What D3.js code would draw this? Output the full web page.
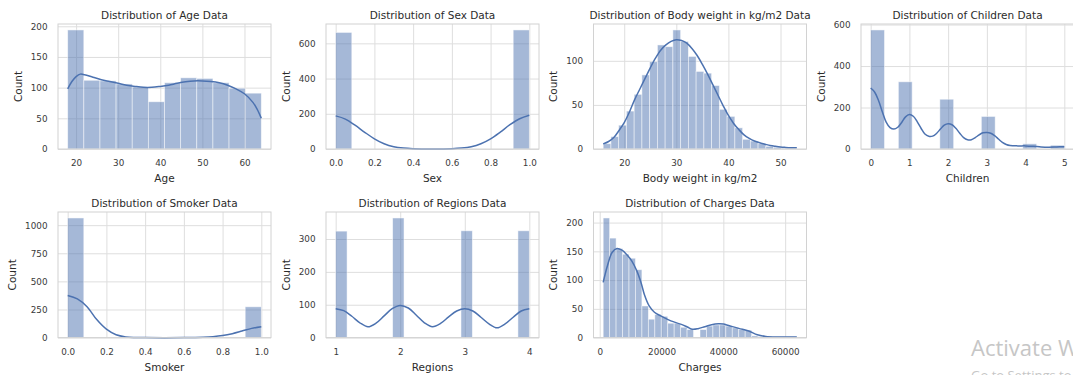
<!DOCTYPE html>
<html>
<head>
<meta charset="utf-8">
<script src="https://cdnjs.cloudflare.com/ajax/libs/d3/7.8.5/d3.min.js"></script>
<style>
  body { margin: 0; background: #fff; }
  svg text { font-family: "DejaVu Sans", sans-serif; fill: #2b2b2b; }
  .grid line { stroke: #dedede; stroke-width: 1; }
  .ticks text { font-size: 8.8px; fill: #3a3a3a; }
  .watermark { font-family: "Open Sans", "Noto Sans", sans-serif !important; fill: #c6c6c6 !important; }
</style>
</head>
<body>
<svg id="fig" width="1073" height="375"></svg>
<script>
// ---- data ----
var ageRange = [18, 64];
var ageCounts = [194, 112, 111, 106, 101, 77, 108, 116, 115, 108, 99, 91];
var ageKde = [[18,98],[19,110],[20,118],[21,122],[22,121],[24,117],[26,113],[28,110],[30,107],[32,104],[34,102],[36,100.5],[38,100.5],[40,102],[42,104],[44,107],[46,109.5],[48,111],[50,111],[52,110],[54,108],[56,104],[58,98],[60,90],[62,76],[63,65],[64,50]];
var ageXTicks = [20, 30, 40, 50, 60];
var ageYTicks = [0, 50, 100, 150, 200];

var sexRange = [0, 1];
var sexCounts = [662, 0, 0, 0, 0, 0, 0, 0, 0, 0, 0, 676];
var sexKde = [[0,188],[0.05,170],[0.1,135],[0.15,95],[0.2,58],[0.25,30],[0.3,13],[0.35,5],[0.4,1.5],[0.5,0],[0.6,1.5],[0.65,5],[0.7,13],[0.75,30],[0.8,58],[0.85,96],[0.9,138],[0.95,172],[1.0,192]];
var sexXTicks = [0, 0.2, 0.4, 0.6, 0.8, 1.0];
var sexYTicks = [0, 200, 400, 600];

var bmiRange = [15.96, 53.13];
var bmiCounts = [6, 14, 27, 43, 62, 84, 99, 118, 116, 135, 122, 105, 88, 86, 72, 45, 37, 24, 11, 9, 6, 3, 2, 1, 1];
var bmiKde = [[15.96,5.8],[17,8.5],[18,13],[19,21],[20,30],[21,42],[22,56],[23,68],[24,80],[25,92],[26,103],[27,112],[28,118],[29,122],[30,124],[31,123],[32,120],[33,114],[34,106],[35,96],[36,85],[37,73],[38,61],[39,49],[40,38],[41,29],[42,22],[43,16],[44,12],[45,9],[46,7],[47,5.5],[48,4],[49,3],[50,2.2],[51,1.8],[52,1.5],[53.13,1.3]];
var bmiXTicks = [20, 30, 40, 50];
var bmiYTicks = [0, 50, 100];

var childRange = [0, 5];
var childCounts = [574, 0, 324, 0, 0, 240, 0, 0, 157, 0, 0, 25, 0, 18];
var childKde = [[0,294],[0.1,275],[0.2,235],[0.3,180],[0.4,130],[0.5,103],[0.6,96],[0.7,105],[0.8,128],[0.9,155],[1.0,166],[1.1,158],[1.2,132],[1.3,100],[1.4,72],[1.5,61],[1.6,62],[1.7,75],[1.8,96],[1.9,115],[2.0,122],[2.1,117],[2.2,100],[2.3,76],[2.4,55],[2.5,45],[2.6,45],[2.7,55],[2.8,68],[2.9,78],[3.0,80],[3.1,76],[3.2,64],[3.3,48],[3.4,32],[3.5,22],[3.6,17],[3.8,15],[4.0,15],[4.2,13],[4.4,10],[4.6,9],[4.8,10],[5.0,11]];
var childXTicks = [0, 1, 2, 3, 4, 5];
var childYTicks = [0, 200, 400, 600];

var smokerRange = [0, 1];
var smokerCounts = [1064, 0, 0, 0, 0, 0, 0, 0, 0, 0, 0, 274];
var smokerKde = [[0,375],[0.05,345],[0.1,275],[0.15,160],[0.2,75],[0.25,25],[0.3,6],[0.35,1],[0.4,0],[0.6,0],[0.65,1],[0.7,3],[0.75,8],[0.8,18],[0.85,35],[0.9,58],[0.95,82],[1.0,97]];
var smokerXTicks = [0, 0.2, 0.4, 0.6, 0.8, 1.0];
var smokerYTicks = [0, 250, 500, 750, 1000];

var regionRange = [1, 4];
var regionCounts = [324, 0, 0, 0, 0, 364, 0, 0, 0, 0, 0, 325, 0, 0, 0, 0, 325];
var regionKde = [[1,88],[1.125,82],[1.25,65],[1.375,45],[1.5,33],[1.625,44],[1.75,66],[1.875,88],[2,98],[2.125,90],[2.25,68],[2.375,45],[2.5,33],[2.625,43],[2.75,63],[2.875,81],[3,88],[3.125,81],[3.25,62],[3.375,42],[3.5,30],[3.625,42],[3.75,62],[3.875,81],[4,88]];
var regionXTicks = [1, 2, 3, 4];
var regionYTicks = [0, 100, 200, 300];

var chargeRange = [1121.87, 63770.43];
var chargeCounts = [208, 173, 155, 145, 138, 118, 55, 32, 40, 37, 25, 25, 18, 14, 0, 14, 20, 22, 22, 20, 17, 14, 13, 3, 2, 1, 1, 0, 1, 1];
var chargeKde = [[1122,96],[2500,125],[4000,148],[5600,155],[7200,152],[8800,144],[10400,133],[12000,116],[13400,95],[14500,74],[16000,55],[17700,44],[20000,37],[23000,29],[26400,23],[28500,18],[30000,14.5],[31800,15.5],[34000,19],[36200,22.5],[38400,24],[40000,23.5],[41700,21],[45000,16],[48200,11.5],[51000,5],[53700,2],[58000,1],[63770,1]];
var chargeXTicks = [0, 20000, 40000, 60000];
var chargeYTicks = [0, 50, 100, 150, 200];

// ---- layout ----
var colLeft = [58, 326, 593.5, 861];
var axW = 213;
var rowTop = [24, 212];
var rowH = [125, 125.6];
var barColor = "#4c72b0";

var svg = d3.select("#fig");

var panels = [
  { title: "Distribution of Age Data", xlabel: "Age", range: ageRange, counts: ageCounts, kde: ageKde, xt: ageXTicks, yt: ageYTicks, fmt: "d", col: 0, row: 0 },
  { title: "Distribution of Sex Data", xlabel: "Sex", range: sexRange, counts: sexCounts, kde: sexKde, xt: sexXTicks, yt: sexYTicks, fmt: ".1f", col: 1, row: 0 },
  { title: "Distribution of Body weight in kg/m2 Data", xlabel: "Body weight in kg/m2", range: bmiRange, counts: bmiCounts, kde: bmiKde, xt: bmiXTicks, yt: bmiYTicks, fmt: "d", col: 2, row: 0 },
  { title: "Distribution of Children Data", xlabel: "Children", range: childRange, counts: childCounts, kde: childKde, xt: childXTicks, yt: childYTicks, fmt: "d", col: 3, row: 0 },
  { title: "Distribution of Smoker Data", xlabel: "Smoker", range: smokerRange, counts: smokerCounts, kde: smokerKde, xt: smokerXTicks, yt: smokerYTicks, fmt: ".1f", col: 0, row: 1 },
  { title: "Distribution of Regions Data", xlabel: "Regions", range: regionRange, counts: regionCounts, kde: regionKde, xt: regionXTicks, yt: regionYTicks, fmt: "d", col: 1, row: 1 },
  { title: "Distribution of Charges Data", xlabel: "Charges", range: chargeRange, counts: chargeCounts, kde: chargeKde, xt: chargeXTicks, yt: chargeYTicks, fmt: "d", col: 2, row: 1 }
];

panels.forEach(drawPanel);

function drawPanel(p) {
  var h = rowH[p.row];
  var g = svg.append("g")
    .attr("transform", "translate(" + colLeft[p.col] + "," + rowTop[p.row] + ")");

  // matplotlib style 5% margins on x, 5% headroom on y
  var span = p.range[1] - p.range[0];
  var x = d3.scaleLinear()
    .domain([p.range[0] - 0.05 * span, p.range[1] + 0.05 * span])
    .range([0, axW]);
  var yMax = 1.05 * Math.max(d3.max(p.counts), d3.max(p.kde, function (d) { return d[1]; }));
  var y = d3.scaleLinear().domain([0, yMax]).range([h, 0]);

  // grid
  g.append("g").attr("class", "grid")
    .attr("transform", "translate(0," + h + ")")
    .call(d3.axisBottom(x).tickValues(p.xt).tickSize(-h).tickFormat(""));
  g.append("g").attr("class", "grid")
    .call(d3.axisLeft(y).tickValues(p.yt).tickSize(-axW).tickFormat(""));
  g.selectAll(".grid .domain").remove();

  // bars
  var n = p.counts.length;
  var bins = p.counts.map(function (c, i) {
    return { x0: p.range[0] + span * i / n, x1: p.range[0] + span * (i + 1) / n, c: c };
  });
  g.append("g").selectAll("rect")
    .data(bins.filter(function (d) { return d.c > 0; }))
    .enter().append("rect")
    .attr("x", function (d) { return x(d.x0); })
    .attr("width", function (d) { return x(d.x1) - x(d.x0); })
    .attr("y", function (d) { return y(d.c); })
    .attr("height", function (d) { return h - y(d.c); })
    .attr("fill", barColor)
    .attr("fill-opacity", 0.5)
    .attr("stroke", "#fff")
    .attr("stroke-opacity", 0.6)
    .attr("stroke-width", 0.8);

  // kde line
  var line = d3.line()
    .x(function (d) { return x(d[0]); })
    .y(function (d) { return y(d[1]); })
    .curve(d3.curveCatmullRom.alpha(0.5));
  g.append("path")
    .datum(p.kde)
    .attr("d", line)
    .attr("fill", "none")
    .attr("stroke", barColor)
    .attr("stroke-width", 1.5);

  // frame
  g.append("rect")
    .attr("width", axW).attr("height", h)
    .attr("fill", "none").attr("stroke", "#d2d2d2").attr("stroke-width", 1);

  // tick labels
  var xa = g.append("g").attr("class", "ticks")
    .attr("transform", "translate(0," + h + ")")
    .call(d3.axisBottom(x).tickValues(p.xt).tickSize(0).tickPadding(11).tickFormat(d3.format(p.fmt)));
  var ya = g.append("g").attr("class", "ticks")
    .call(d3.axisLeft(y).tickValues(p.yt).tickSize(0).tickPadding(10.5).tickFormat(d3.format(p.fmt === ".1f" ? "d" : p.fmt)));
  g.selectAll(".ticks .domain").remove();
  g.selectAll(".ticks text").attr("font-family", null).style("font-size", "8.8px");

  var maxW = 0;
  ya.selectAll("text").each(function () { maxW = Math.max(maxW, this.getComputedTextLength()); });

  // labels and title
  g.append("text")
    .attr("x", axW / 2).attr("y", h + 33)
    .attr("text-anchor", "middle")
    .style("font-size", "10.5px")
    .text(p.xlabel);
  g.append("text")
    .attr("transform", "translate(" + (-(10.5 + maxW + 9)) + "," + (h / 2) + ") rotate(-90)")
    .attr("text-anchor", "middle")
    .style("font-size", "10.5px")
    .text("Count");
  g.append("text")
    .attr("x", axW / 2).attr("y", -5)
    .attr("text-anchor", "middle")
    .style("font-size", "10.5px")
    .text(p.title);
}

// windows activation watermark present in the screenshot
svg.append("text").attr("class", "watermark")
  .attr("x", 971).attr("y", 355.5)
  .style("font-size", "22px")
  .text("Activate Windows");
svg.append("text").attr("class", "watermark")
  .attr("x", 971).attr("y", 380)
  .style("font-size", "13px")
  .text("Go to Settings to activate Windows.");
</script>
</body>
</html>
